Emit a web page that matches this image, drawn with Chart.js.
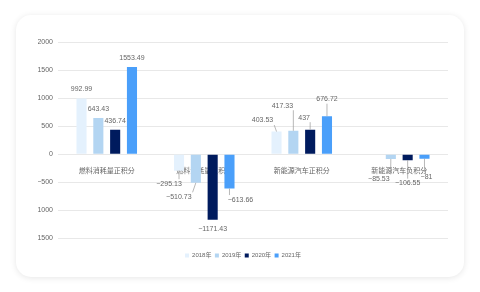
<!DOCTYPE html>
<html>
<head>
<meta charset="utf-8">
<script src="https://cdn.jsdelivr.net/npm/chart.js@4.4.1/dist/chart.umd.min.js"></script>
<style>
    html, body { margin: 0; padding: 0; background: #fff; }
    body { width: 480px; height: 292px; position: relative; overflow: hidden; }
    .card {
        position: absolute; left: 16px; top: 15px; width: 448px; height: 262px;
        background: #fff; border-radius: 15px;
        box-shadow: 0 1px 6px rgba(0, 0, 0, 0.10);
    }
    #chart { position: absolute; left: 0; top: 0; }
</style>
</head>
<body>
<div class="card"></div>
<canvas id="chart" width="480" height="292"></canvas>
<script>
const categories = ['燃料消耗量正积分', '燃料消耗量负积分', '新能源汽车正积分', '新能源汽车负积分'];
const years = ['2018年', '2019年', '2020年', '2021年'];

const values2018 = [992.99, -295.13, 403.53, null];
const values2019 = [643.43, -510.73, 417.33, -85.53];
const values2020 = [436.74, -1171.43, 437, -106.55];
const values2021 = [1553.49, -613.66, 676.72, -81];

const yTicks = [-1500, -1000, -500, 0, 500, 1000, 1500, 2000];

const colors = ['#e4f1fd', '#b3d5f2', '#001b5e', '#4a9ffa'];

// label nudges (px) so crowded labels sit apart, like the original layout
const labelNudge = [
    [[0, 0], [-10, 4], [-14, -2], [0, 0]],
    [[0, 0], [-17, 5], [-11, -16], [-12, 11]],
    [[0, 0], [0, 0], [-6, -3], [0, 14]],
    [[0, 0], [11, 2], [0, -8], [2, 9]],
];

const FONT = "'Liberation Sans', 'Noto Sans CJK SC', sans-serif";

const valueLabels = {
    id: 'valueLabels',
    afterDatasetsDraw(chart) {
        const ctx = chart.ctx;
        ctx.save();
        ctx.font = `7px ${FONT}`;
        ctx.textAlign = 'center';
        ctx.textBaseline = 'middle';
        chart.data.datasets.forEach((ds, di) => {
            const meta = chart.getDatasetMeta(di);
            meta.data.forEach((bar, i) => {
                const v = ds.data[i];
                if (v === null || v === undefined) return;
                const text = String(v).replace('-', '\u2212');
                const nudge = labelNudge[di][i];
                const lx = bar.x + nudge[0];
                const ly = (v >= 0 ? bar.y - 9 : bar.y + 9) + nudge[1];
                const w = ctx.measureText(text).width / 2 + 1;
                const cx = Math.min(Math.max(bar.x, lx - w), lx + w);
                const cy = Math.min(Math.max(bar.y, ly - 4.5), ly + 4.5);
                if (Math.hypot(cx - bar.x, cy - bar.y) > 5) {
                    ctx.strokeStyle = '#9a9a9a';
                    ctx.lineWidth = 0.7;
                    ctx.beginPath();
                    ctx.moveTo(bar.x, bar.y);
                    ctx.lineTo(cx, cy);
                    ctx.stroke();
                }
                ctx.fillStyle = '#666';
                ctx.fillText(text, lx, ly);
            });
        });
        ctx.restore();
    },
};

new Chart(document.getElementById('chart'), {
    type: 'bar',
    data: {
        labels: categories,
        datasets: [values2018, values2019, values2020, values2021].map((d, i) => ({
            label: years[i],
            data: d,
            backgroundColor: colors[i],
            borderWidth: 0,
            categoryPercentage: 0.69,
            barPercentage: 0.6,
        })),
    },
    options: {
        responsive: false,
        animation: false,
        devicePixelRatio: 1,
        layout: { padding: { left: 38, right: 32, top: 42, bottom: 23.5 } },
        plugins: {
            legend: {
                position: 'bottom',
                title: { display: true, text: ' ', font: { size: 1 }, padding: { top: 9.5, bottom: 0 } },
                labels: {
                    boxWidth: 4,
                    boxHeight: 4,
                    padding: 3.5,
                    color: '#666',
                    font: { size: 6, family: FONT },
                },
            },
            tooltip: { enabled: false },
        },
        scales: {
            x: {
                position: { y: 0 },
                z: 1,
                grid: { display: false },
                border: { display: false },
                ticks: {
                    color: '#666',
                    padding: 5,
                    font: { size: 7, family: FONT },
                    maxRotation: 0,
                    autoSkip: false,
                },
                afterFit: s => { s.height = 0; },
            },
            y: {
                min: yTicks[0],
                max: yTicks[yTicks.length - 1],
                afterBuildTicks: s => { s.ticks = yTicks.map(v => ({ value: v })); },
                grid: { color: '#e8e8e8', drawTicks: false },
                border: { display: false },
                ticks: {
                    color: '#666',
                    padding: 5,
                    font: { size: 7, family: FONT },
                    callback: v => String(v).replace('-', '\u2212'),
                },
                afterFit: s => { s.width = 20; },
            },
        },
    },
    plugins: [valueLabels],
});
</script>
</body>
</html>
